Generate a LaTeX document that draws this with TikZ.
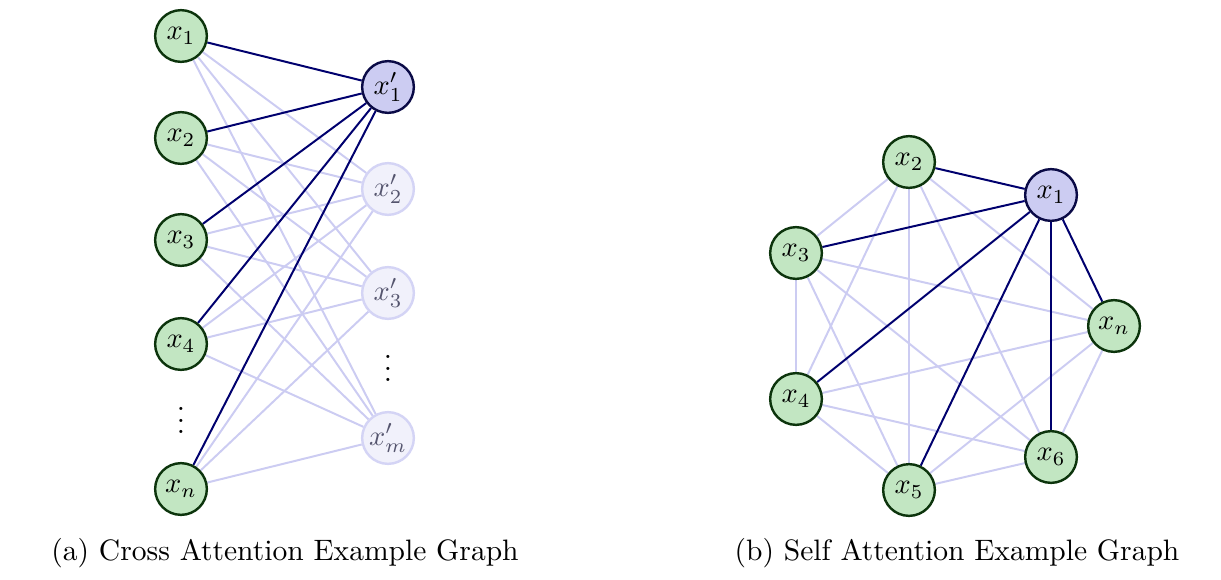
\documentclass[tikz,border=0pt]{standalone}
\usetikzlibrary{backgrounds}
\definecolor{gfill}{RGB}{194,230,194}
\definecolor{gdraw}{RGB}{12,52,12}
\definecolor{pfill}{RGB}{204,204,242}
\definecolor{pdraw}{RGB}{10,10,70}
\definecolor{darkedge}{RGB}{0,0,110}
\definecolor{lightedge}{RGB}{204,204,242}
\definecolor{ffill}{RGB}{241,241,251}
\definecolor{fdraw}{RGB}{212,212,245}
\definecolor{ftext}{RGB}{85,85,110}
\begin{document}
\begin{tikzpicture}[x=0.352pt,y=-0.352pt,
  font=\fontsize{10.4}{12.5}\selectfont,
  base/.style={circle,minimum size=18.2pt,inner sep=0pt,line width=0.85pt},
  gnode/.style={base,fill=gfill,draw=gdraw},
  pnode/.style={base,fill=pfill,draw=pdraw},
  fnode/.style={base,fill=ffill,draw=fdraw,text=ftext},
  ledge/.style={draw=lightedge,line width=0.7pt},
  dedge/.style={draw=darkedge,line width=0.7pt}]
\useasboundingbox (0,0) rectangle (1221,579);
% left graph
\node[gnode] (a1) at (181,36) {$x_1$};
\node[gnode] (a2) at (181,138) {$x_2$};
\node[gnode] (a3) at (181,240) {$x_3$};
\node[gnode] (a4) at (181,344) {$x_4$};
\node[gnode] (an) at (181,489) {$x_n$};
\node[inner sep=0pt] (ad) at (181,412) {$\vdots$};
\node[pnode] (b1) at (388,87) {$x'_1$};
\node[fnode] (b2) at (388,189) {$x'_2$};
\node[fnode] (b3) at (388,293) {$x'_3$};
\node[fnode] (bm) at (388,438) {$x'_m$};
\node[inner sep=0pt] (bd) at (388,360) {$\vdots$};
% right graph
\node[pnode] (c1) at (1051,195) {$x_1$};
\node[gnode] (c2) at (909,162) {$x_2$};
\node[gnode] (c3) at (796,253) {$x_3$};
\node[gnode] (c4) at (796,399) {$x_4$};
\node[gnode] (c5) at (909,490) {$x_5$};
\node[gnode] (c6) at (1051,457) {$x_6$};
\node[gnode] (cn) at (1114,326) {$x_n$};
\begin{pgfonlayer}{background}
\foreach \s in {a1,a2,a3,a4,an}{
  \foreach \t in {b2,b3,bm}{
    \path[ledge] (\s) -- (\t);
  }
}
\foreach \s in {a1,a2,a3,a4,an}{
  \path[dedge] (\s) -- (b1);
}
\foreach \s/\t in {c2/c3,c2/c4,c2/c5,c2/c6,c2/cn,c3/c4,c3/c5,c3/c6,c3/cn,c4/c5,c4/c6,c4/cn,c5/c6,c5/cn,c6/cn}{
  \path[ledge] (\s) -- (\t);
}
\foreach \t in {c2,c3,c4,c5,c6,cn}{
  \path[dedge] (c1) -- (\t);
}
\end{pgfonlayer}
% captions
\node[anchor=base] (capa) at (285,560) {(a) Cross Attention Example Graph};
\node[anchor=base] (capb) at (957,560) {(b) Self Attention Example Graph};
\end{tikzpicture}
\end{document}
